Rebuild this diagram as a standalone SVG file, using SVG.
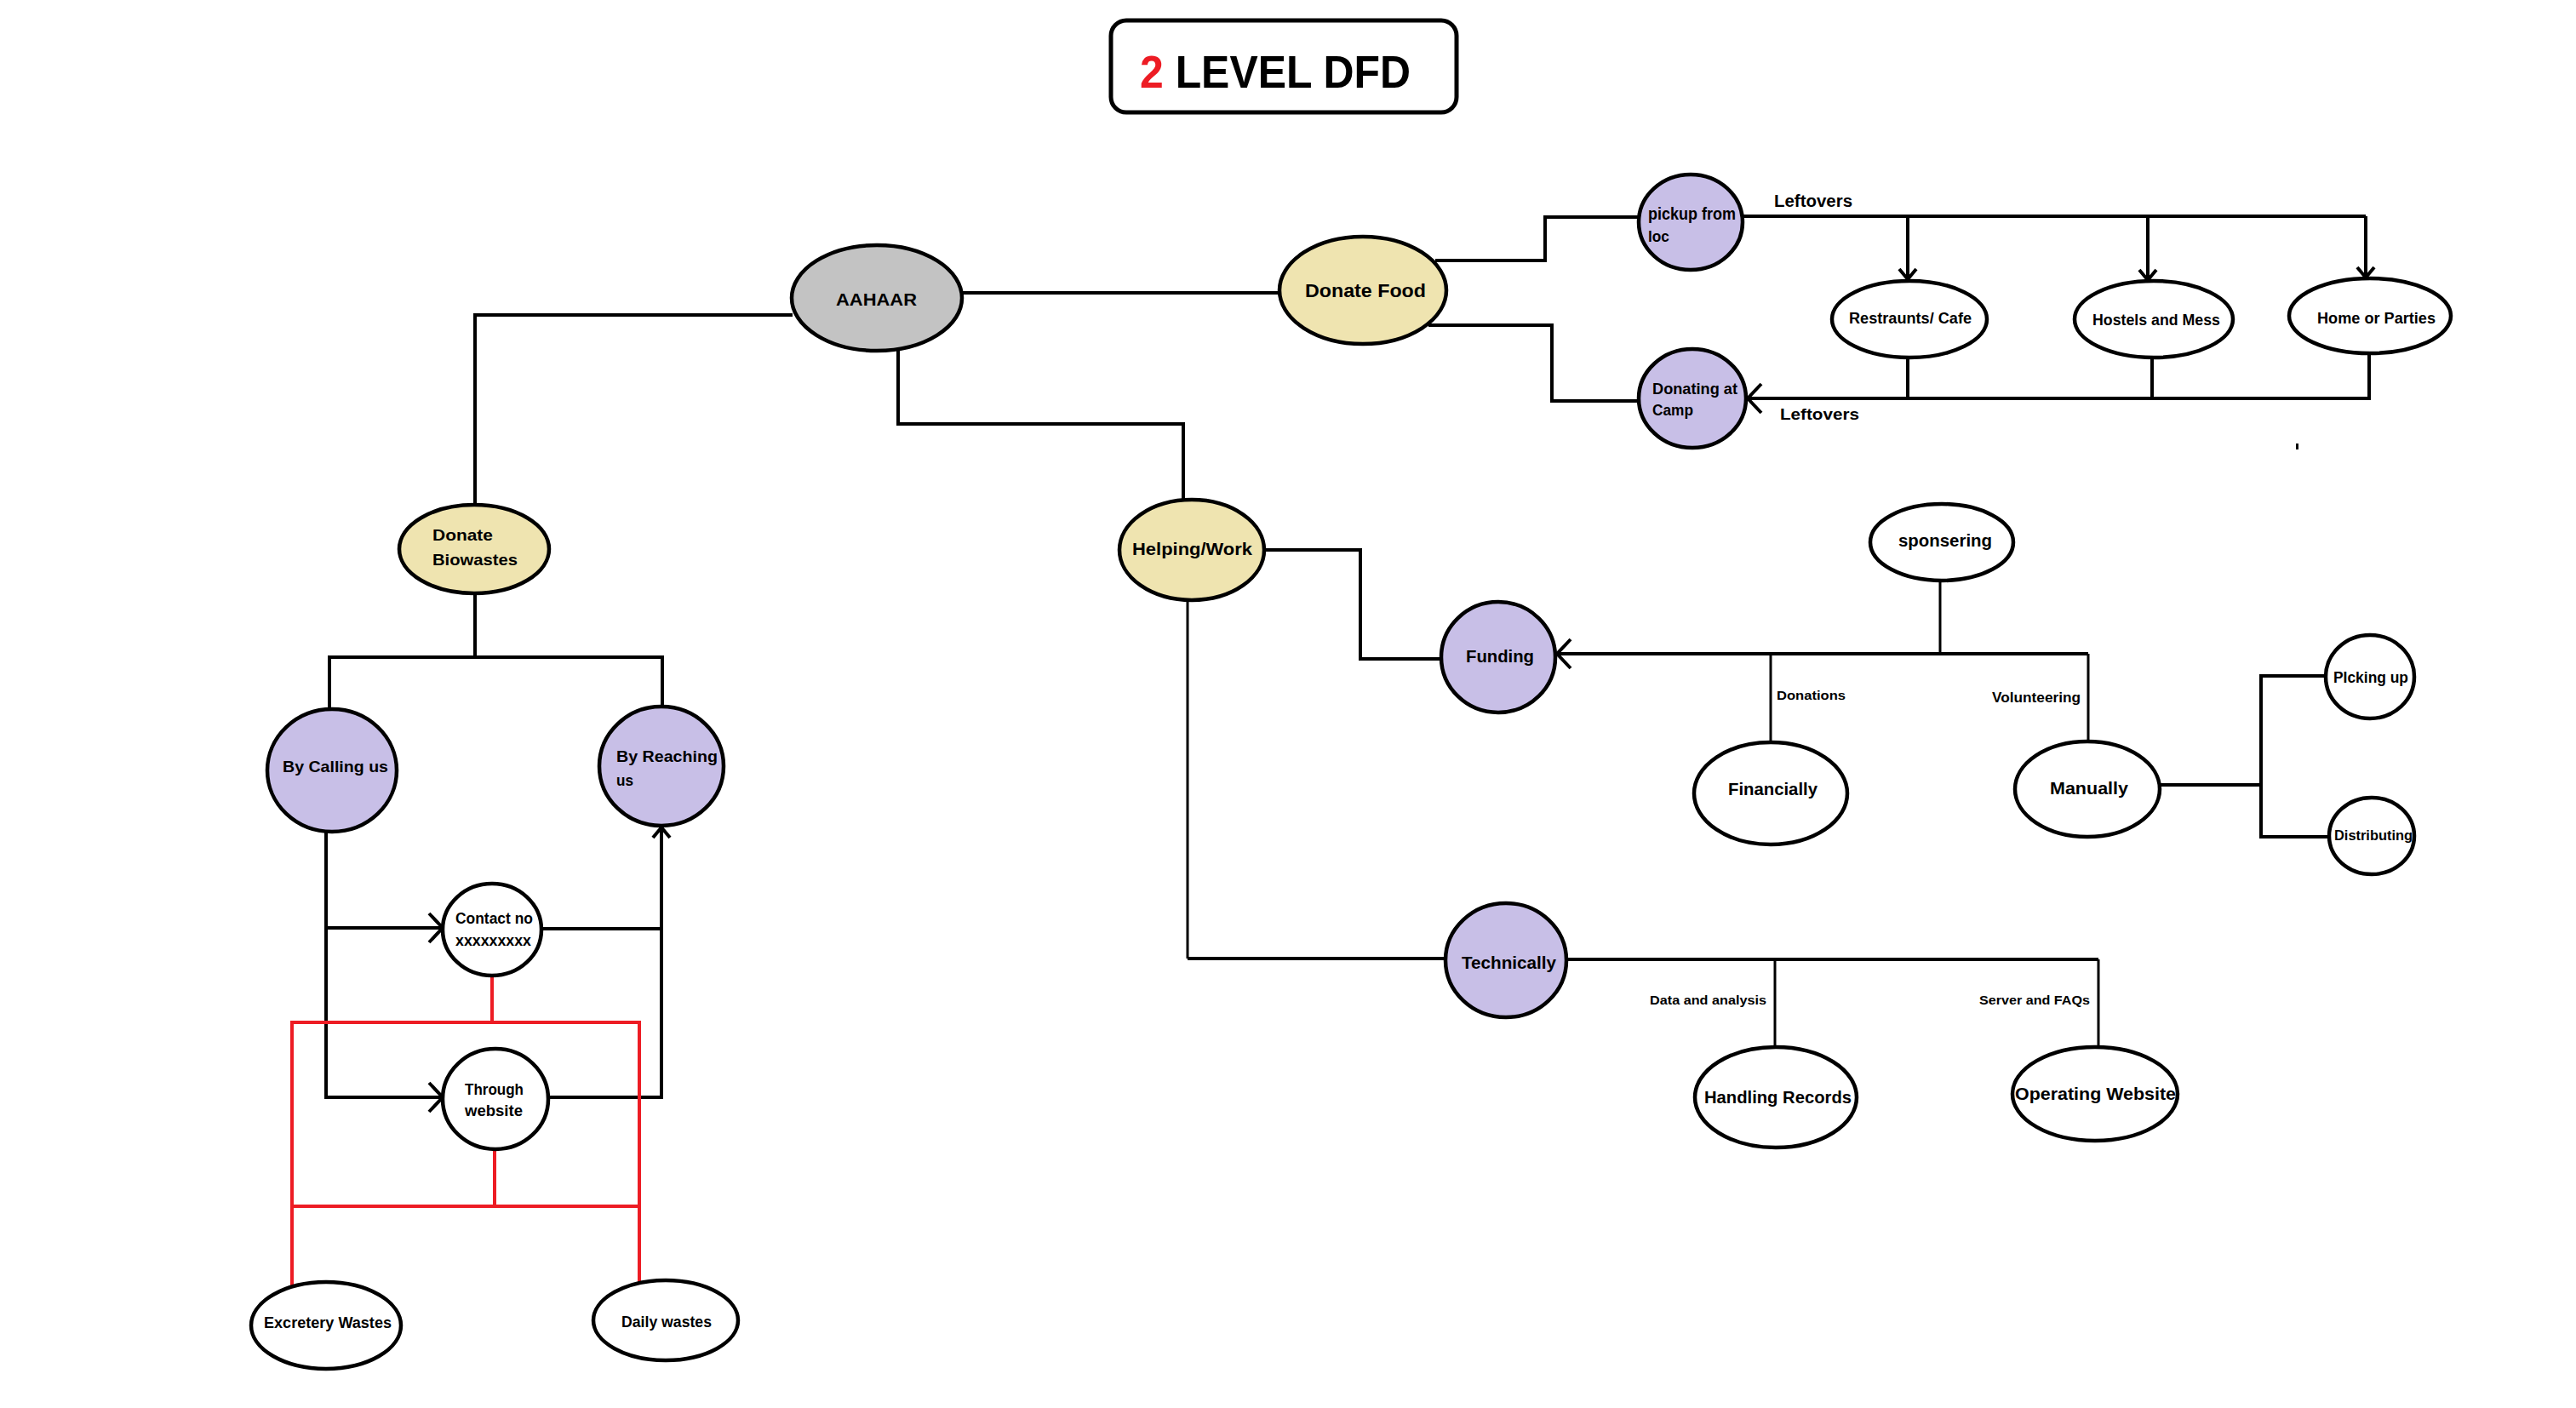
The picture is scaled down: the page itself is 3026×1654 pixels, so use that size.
<svg xmlns="http://www.w3.org/2000/svg" width="3026" height="1654" viewBox="0 0 3026 1654">
<style>
.bg{fill:#ffffff}
.c{fill:none;stroke:#000;stroke-width:4;stroke-linejoin:miter}
.thin{stroke-width:3}
.red{fill:none;stroke:#ed1c24;stroke-width:4}
.n{stroke:#000;stroke-width:4.5}
.w{fill:#ffffff}
.g{fill:#c3c3c3}
.y{fill:#efe4b0}
.p{fill:#c8bfe7}
text{font-family:"Liberation Sans",Arial,sans-serif;font-weight:bold;fill:#000}
.t{font-size:20px}
.s{font-size:15px}
</style>
<defs>
<marker id="chev" viewBox="0 0 20 24" refX="18" refY="12" markerWidth="20" markerHeight="24" markerUnits="userSpaceOnUse" orient="auto">
<path d="M6,2 L18,12 L6,22" fill="none" stroke="#000" stroke-width="4"/>
</marker>
<marker id="chevL" viewBox="0 0 24 40" refX="22" refY="20" markerWidth="24" markerHeight="40" markerUnits="userSpaceOnUse" orient="auto">
<path d="M5,3 L21,20 L5,37" fill="none" stroke="#000" stroke-width="4"/>
</marker>
</defs>
<rect class="bg" x="0" y="0" width="3026" height="1654"/>

<g id="connectors">
<path class="c" d="M931,370 H558 V593"/>
<path class="c" d="M1131,344 H1503"/>
<path class="c" d="M1055,408 V498 H1390 V588"/>
<path class="c" d="M1686,306 H1815 V255 H1926"/>
<path class="c" d="M1678,382 H1823 V471 H1926"/>
<path class="c" d="M2047,254 H2779"/>
<path class="c" d="M2241,254 V328" marker-end="url(#chev)"/>
<path class="c" d="M2523,254 V329" marker-end="url(#chev)"/>
<path class="c" d="M2779,254 V326" marker-end="url(#chev)"/>
<path class="c" d="M2241,420 V468"/>
<path class="c" d="M2528,420 V468"/>
<path class="c" d="M2783,415 V468 H2052" marker-end="url(#chevL)"/>
<path class="c" d="M558,697 V772"/>
<path class="c" d="M387,834 V772 H778 V831"/>
<path class="c" d="M383,976 V1289 H521" marker-end="url(#chevL)"/>
<path class="c" d="M383,1090 H521" marker-end="url(#chevL)"/>
<path class="c" d="M636,1091 H777"/>
<path class="c" d="M645,1289 H777 V972" marker-end="url(#chev)"/>
<path class="red" d="M578,1146 V1201"/>
<path class="red" d="M343,1510 V1201 H751 V1506"/>
<path class="red" d="M581,1351 V1417"/>
<path class="red" d="M343,1417 H751"/>
<path class="c" d="M1485,646 H1598 V774 H1694"/>
<path class="c" d="M2453,768 H1828" marker-end="url(#chevL)"/>
<path class="c thin" d="M2279,683 V768"/>
<path class="c thin" d="M2080,768 V872"/>
<path class="c thin" d="M2453,768 V872"/>
<path class="c" d="M2537,922 H2656"/>
<path class="c" d="M2733,794 H2656 V983 H2737"/>
<path class="c thin" d="M1395,704 V1126"/>
<path class="c" d="M1395,1126 H1698"/>
<path class="c" d="M1839,1127 H2465"/>
<path class="c thin" d="M2465,1127 V1232"/>
<path class="c thin" d="M2085,1127 V1232"/>
<rect x="2697" y="521" width="3" height="7" fill="#000"/>
</g>

<g id="title">
<rect x="1305" y="24" width="406" height="108" rx="18" fill="#fff" stroke="#000" stroke-width="5"/>
<text x="1339" y="103" font-size="54" textLength="318" lengthAdjust="spacingAndGlyphs"><tspan fill="#ed1c24">2</tspan> LEVEL DFD</text>
</g>

<g id="aahaar"><ellipse class="n g" cx="1030" cy="350" rx="100" ry="62"/><text class="t" x="982" y="359" font-size="22" textLength="95" lengthAdjust="spacingAndGlyphs">AAHAAR</text></g>
<g id="donate-food"><ellipse class="n y" cx="1601" cy="341" rx="98" ry="63"/><text x="1533" y="349" font-size="22" textLength="142" lengthAdjust="spacingAndGlyphs">Donate Food</text></g>
<g id="pickup"><ellipse class="n p" cx="1986" cy="261" rx="61" ry="56"/><text class="t" x="1936" y="258" font-size="18" textLength="103" lengthAdjust="spacingAndGlyphs">pickup from</text><text x="1936" y="284" font-size="18" textLength="25" lengthAdjust="spacingAndGlyphs">loc</text></g>
<g id="donating-camp"><ellipse class="n p" cx="1988" cy="468" rx="63" ry="58"/><text x="1941" y="463" font-size="18" textLength="100" lengthAdjust="spacingAndGlyphs">Donating at</text><text x="1941" y="488" font-size="18" textLength="48" lengthAdjust="spacingAndGlyphs">Camp</text></g>
<g id="leftovers-labels"><text x="2084" y="243" font-size="20" textLength="92" lengthAdjust="spacingAndGlyphs">Leftovers</text><text x="2091" y="493" font-size="19" textLength="93" lengthAdjust="spacingAndGlyphs">Leftovers</text></g>
<g id="restraunts"><ellipse class="n w" cx="2243" cy="375" rx="91" ry="45"/><text x="2172" y="380" font-size="18" textLength="144" lengthAdjust="spacingAndGlyphs">Restraunts/ Cafe</text></g>
<g id="hostels"><ellipse class="n w" cx="2530" cy="375" rx="93" ry="45"/><text x="2458" y="382" font-size="18" textLength="150" lengthAdjust="spacingAndGlyphs">Hostels and Mess</text></g>
<g id="home"><ellipse class="n w" cx="2784" cy="371" rx="95" ry="44"/><text x="2722" y="380" font-size="18" textLength="139" lengthAdjust="spacingAndGlyphs">Home or Parties</text></g>

<g id="donate-biowastes"><ellipse class="n y" cx="557" cy="645" rx="88" ry="52"/><text x="508" y="635" font-size="19" textLength="71" lengthAdjust="spacingAndGlyphs">Donate</text><text x="508" y="664" font-size="19" textLength="100" lengthAdjust="spacingAndGlyphs">Biowastes</text></g>
<g id="by-calling"><ellipse class="n p" cx="390" cy="905" rx="76" ry="72"/><text x="332" y="907" font-size="19" textLength="124" lengthAdjust="spacingAndGlyphs">By Calling us</text></g>
<g id="by-reaching"><ellipse class="n p" cx="777" cy="900" rx="73" ry="70"/><text x="724" y="895" font-size="19" textLength="119" lengthAdjust="spacingAndGlyphs">By Reaching</text><text x="724" y="923" font-size="19" textLength="20" lengthAdjust="spacingAndGlyphs">us</text></g>
<g id="contact"><ellipse class="n w" cx="578" cy="1092" rx="58" ry="54"/><text x="535" y="1085" font-size="18" textLength="91" lengthAdjust="spacingAndGlyphs">Contact no</text><text x="535" y="1111" font-size="18" textLength="89" lengthAdjust="spacingAndGlyphs">xxxxxxxxx</text></g>
<g id="website"><ellipse class="n w" cx="582" cy="1291" rx="62" ry="59"/><text x="546" y="1286" font-size="18" textLength="69" lengthAdjust="spacingAndGlyphs">Through</text><text x="546" y="1311" font-size="18" textLength="68" lengthAdjust="spacingAndGlyphs">website</text></g>
<g id="excretery"><ellipse class="n w" cx="383" cy="1557" rx="88" ry="51"/><text x="310" y="1560" font-size="18" textLength="150" lengthAdjust="spacingAndGlyphs">Excretery Wastes</text></g>
<g id="daily"><ellipse class="n w" cx="782" cy="1551" rx="85" ry="47"/><text x="730" y="1559" font-size="18" textLength="106" lengthAdjust="spacingAndGlyphs">Daily wastes</text></g>

<g id="helping"><ellipse class="n y" cx="1400" cy="646" rx="85" ry="59"/><text x="1330" y="652" font-size="20" textLength="141" lengthAdjust="spacingAndGlyphs">Helping/Work</text></g>
<g id="funding"><ellipse class="n p" cx="1760" cy="772" rx="67" ry="65"/><text x="1722" y="778" font-size="20" textLength="80" lengthAdjust="spacingAndGlyphs">Funding</text></g>
<g id="sponsering"><ellipse class="n w" cx="2281" cy="637" rx="84" ry="45"/><text x="2230" y="642" font-size="20" textLength="110" lengthAdjust="spacingAndGlyphs">sponsering</text></g>
<g id="financially"><ellipse class="n w" cx="2080" cy="932" rx="90" ry="60"/><text x="2030" y="934" font-size="20" textLength="105" lengthAdjust="spacingAndGlyphs">Financially</text></g>
<g id="manually"><ellipse class="n w" cx="2452" cy="927" rx="85" ry="56"/><text x="2408" y="933" font-size="21" textLength="92" lengthAdjust="spacingAndGlyphs">Manually</text></g>
<g id="fund-labels"><text x="2087" y="822" font-size="15" textLength="81" lengthAdjust="spacingAndGlyphs">Donations</text><text x="2340" y="825" font-size="16" textLength="104" lengthAdjust="spacingAndGlyphs">Volunteering</text></g>
<g id="picking-up"><ellipse class="n w" cx="2784" cy="795" rx="52" ry="49"/><text x="2741" y="802" font-size="18" textLength="88" lengthAdjust="spacingAndGlyphs">PIcking up</text></g>
<g id="distributing"><ellipse class="n w" cx="2786" cy="982" rx="50" ry="45"/><text x="2742" y="987" font-size="17" textLength="92" lengthAdjust="spacingAndGlyphs">Distributing</text></g>

<g id="technically"><ellipse class="n p" cx="1769" cy="1128" rx="71" ry="67"/><text x="1717" y="1138" font-size="20" textLength="111" lengthAdjust="spacingAndGlyphs">Technically</text></g>
<g id="tech-labels"><text x="1938" y="1180" font-size="15" textLength="137" lengthAdjust="spacingAndGlyphs">Data and analysis</text><text x="2325" y="1180" font-size="15" textLength="130" lengthAdjust="spacingAndGlyphs">Server and FAQs</text></g>
<g id="handling"><ellipse class="n w" cx="2086" cy="1289" rx="95" ry="59"/><text x="2002" y="1296" font-size="21" textLength="173" lengthAdjust="spacingAndGlyphs">Handling Records</text></g>
<g id="operating"><ellipse class="n w" cx="2461" cy="1285" rx="97" ry="55"/><text x="2367" y="1292" font-size="21" textLength="189" lengthAdjust="spacingAndGlyphs">Operating Website</text></g>
</svg>
